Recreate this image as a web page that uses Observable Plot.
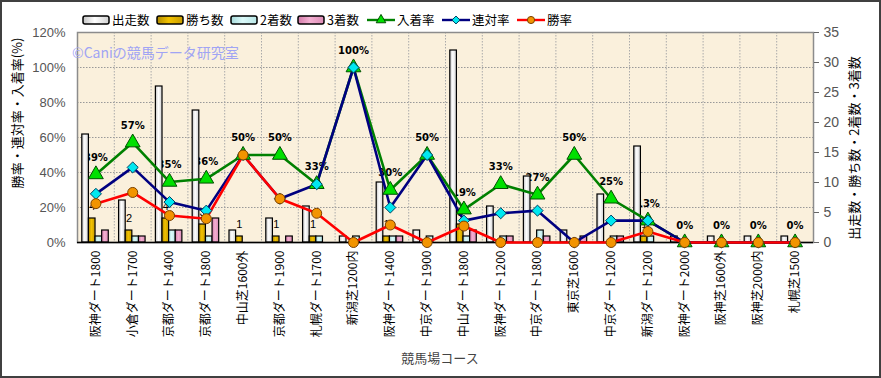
<!DOCTYPE html>
<html><head><meta charset="utf-8">
<script src="https://cdn.jsdelivr.net/npm/d3@7"></script>
<script src="https://cdn.jsdelivr.net/npm/@observablehq/plot@0.6"></script>
<style>
body{margin:0;background:#fff;}
#chart{position:absolute;left:0;top:0;}
#frame{position:absolute;left:0;top:0;width:881px;height:378px;box-sizing:border-box;border:2px solid #404040;pointer-events:none;}
</style></head>
<body>
<div id="chart"></div><div id="frame"></div>
<script>
const courses = ["阪神ダート1800","小倉ダート1700","京都ダート1400","京都ダート1800","中山芝1600外","京都ダート1900","札幌ダート1700","新潟芝1200内","阪神ダート1400","中京ダート1900","中山ダート1800","阪神ダート1200","中京ダート1800","東京芝1600","中京ダート1200","新潟ダート1200","阪神ダート2000","阪神芝1600外","阪神芝2000内","札幌芝1500"];
const starts  = [18,7,26,22,2,4,6,1,10,2,32,6,11,2,8,16,1,1,1,1];
const wins    = [4,2,4,3,1,1,1,0,1,0,3,0,0,0,0,1,0,0,0,0];
const seconds = [1,1,2,1,0,0,1,1,1,1,1,1,2,0,1,1,0,0,0,0];
const thirds  = [2,1,2,4,0,1,0,0,1,0,2,1,1,1,1,0,0,0,0,0];
const winRate    = [22.2,28.6,15.4,13.6,50,25,16.7,0,10,0,9.4,0,0,0,0,6.3,0,0,0,0];
const rentaiRate = [27.8,42.9,23.1,18.2,50,25,33.3,100,20,50,12.5,16.7,18.2,0,12.5,12.5,0,0,0,0];
const placeRate  = [38.9,57.1,34.6,36.4,50,50,33.3,100,30,50,18.8,33.3,27.3,50,25,12.5,0,0,0,0];
const leftTicks = [0,20,40,60,80,100,120];
const rightTicks = [0,5,10,15,20,25,30,35];
const seriesNames = ["出走数","勝ち数","2着数","3着数"];
const rateNames = ["入着率","連対率","勝率"];

const k = 120/35;
const idx = courses.map((c,i)=>i);
const counts = [starts, wins, seconds, thirds];
const bw = 0.18, b0 = 0.13;
const barMarks = counts.map((arr,s)=>Plot.rectY(idx.filter(i=>arr[i]>0), {
  x1: i=>i+b0+bw*s, x2: i=>i+b0+bw*(s+1), y1: 0, y2: i=>arr[i]*k,
  fill: `url(#g${s})`, stroke: "#000", strokeWidth: 1.2
}));

const numFont = "'Liberation Sans Narrow','Liberation Sans',sans-serif";
const jpFont = "'Noto Sans CJK JP',sans-serif";

const chart = Plot.plot({
  width: 881, height: 378,
  marginLeft: 77, marginRight: 68, marginTop: 32, marginBottom: 136,
  x: {domain: [0, courses.length], axis: null},
  y: {domain: [0, 120], axis: null},
  style: {fontFamily: jpFont, background: "transparent", overflow: "visible"},
  marks: [
    Plot.frame({fill: "#faf0dc"}),
    Plot.gridY(leftTicks.slice(1,-1), {stroke: "#999", strokeOpacity: 1, strokeDasharray: "1.5,1.5"}),
    Plot.ruleX(d3.range(1, courses.length), {stroke: "#aaa", strokeDasharray: "1.5,1.5"}),
    Plot.frame({stroke: "#8c8c8c", strokeWidth: 1.5}),
    Plot.text(idx, {x: i=>i+0.5, y: i=>placeRate[i], text: i=>Math.round(placeRate[i])+"%", dy: -17, fontSize: 10, fontWeight: "bold", fontFamily: "'DejaVu Sans',sans-serif", fill: "#000"}),
    Plot.text(idx.filter(i=>wins[i]>0), {x: i=>i+b0+bw*1.5, y: i=>wins[i]*k, text: i=>String(wins[i]), dy: -12, fontSize: 11, fontFamily: numFont, fill: "#000"}),
    ...barMarks,
    Plot.ruleY([0], {stroke: "#000", strokeWidth: 1.5}),
    Plot.line(idx, {x: i=>i+0.5, y: i=>placeRate[i], stroke: "#008000", strokeWidth: 2.6}),
    Plot.line(idx, {x: i=>i+0.5, y: i=>rentaiRate[i], stroke: "#000080", strokeWidth: 2.6}),
    Plot.line(idx, {x: i=>i+0.5, y: i=>winRate[i], stroke: "#ff0000", strokeWidth: 2.6}),
    Plot.dot(idx, {x: i=>i+0.5, y: i=>placeRate[i], symbol: "triangle", r: 5.5, fill: "#00e000", stroke: "#005000", strokeWidth: 1}),
    Plot.dot(idx, {x: i=>i+0.5, y: i=>rentaiRate[i], symbol: "diamond2", r: 5, fill: "#00e8f0", stroke: "#004060", strokeWidth: 1}),
    Plot.dot(idx, {x: i=>i+0.5, y: i=>winRate[i], symbol: "circle", r: 5, fill: "#f29400", stroke: "#7a4000", strokeWidth: 1}),
    Plot.axisY(leftTicks, {anchor: "left", tickSize: 0, tickPadding: 12, tickFormat: d=>d+"%", fontSize: 13, fontFamily: numFont, fill: "#555", label: null}),
    Plot.axisY(rightTicks.map(v=>v*k), {anchor: "right", tickSize: 5, tickPadding: 5, stroke: "#666", tickFormat: v=>String(Math.round(v/k)), fontSize: 14, fontFamily: numFont, fill: "#555", label: null}),
    Plot.axisX(idx.map(i=>i+0.5), {anchor: "bottom", tickSize: 0, tickPadding: 8, tickRotate: -90, tickFormat: v=>courses[Math.floor(v)], fontSize: 12, fill: "#000", label: null})
  ]
});
document.getElementById("chart").appendChild(chart);

const svg = d3.select(chart);
const defs = svg.insert("defs", ":first-child");
const grads = [["#c4c4c4","#ffffff","#d0d0d0"],["#b08a00","#f2c200","#c89c00"],["#a6dada","#dcfafa","#b8e6e6"],["#d27aa8","#f4b0d2","#dc8cb6"]];
grads.forEach((g,s)=>{
  const lg = defs.append("linearGradient").attr("id","g"+s).attr("x1",0).attr("x2",1).attr("y1",0).attr("y2",0);
  lg.append("stop").attr("offset","0%").attr("stop-color",g[0]);
  lg.append("stop").attr("offset","45%").attr("stop-color",g[1]);
  lg.append("stop").attr("offset","100%").attr("stop-color",g[2]);
});

// watermark
svg.append("text").attr("x",72).attr("y",58).attr("text-anchor","start").attr("font-size",14).attr("font-family",jpFont).attr("fill","#a0a4f4").text("©Caniの競馬データ研究室");

// axis titles
svg.append("text").attr("transform","translate(22,113) rotate(-90)").attr("text-anchor","middle").attr("font-size",13).attr("font-family",jpFont).attr("fill","#000").text("勝率・連対率・入着率(%)");
svg.append("text").attr("transform","translate(859,148) rotate(-90)").attr("text-anchor","middle").attr("font-size",13).attr("font-family",jpFont).attr("fill","#000").text("出走数・勝ち数・2着数・3着数");
svg.append("text").attr("x",440).attr("y",363).attr("text-anchor","middle").attr("font-size",13).attr("font-family",jpFont).attr("fill","#444").text("競馬場コース");

// legend
const lg = svg.append("g").attr("font-family",jpFont).attr("font-size",12.5).attr("text-anchor","start");
const barX = [83,157,231,298];
seriesNames.forEach((n,s)=>{
  lg.append("rect").attr("x",barX[s]).attr("y",16).attr("width",26).attr("height",8).attr("rx",2).attr("fill",`url(#g${s})`).attr("stroke","#000").attr("stroke-width",1.5);
  lg.append("text").attr("x",barX[s]+29).attr("y",25).attr("fill","#000").text(n);
});
const lineX = [367,442,517];
const lcol = [["#008000","#00e000","#005000","triangle"],["#000080","#00e8f0","#004060","diamond2"],["#ff0000","#f29400","#7a4000","circle"]];
rateNames.forEach((n,s)=>{
  const x = lineX[s];
  lg.append("line").attr("x1",x).attr("x2",x+28).attr("y1",20).attr("y2",20).attr("stroke",lcol[s][0]).attr("stroke-width",2.4);
  const sym = lcol[s][3]==="triangle"? d3.symbolTriangle : lcol[s][3]==="diamond2"? d3.symbolDiamond2 : d3.symbolCircle;
  lg.append("path").attr("transform",`translate(${x+14},20)`).attr("d",d3.symbol(sym, 40)).attr("fill",lcol[s][1]).attr("stroke",lcol[s][2]);
  lg.append("text").attr("x",x+30).attr("y",25).attr("fill","#000").text(n);
});
</script>
</body></html>
